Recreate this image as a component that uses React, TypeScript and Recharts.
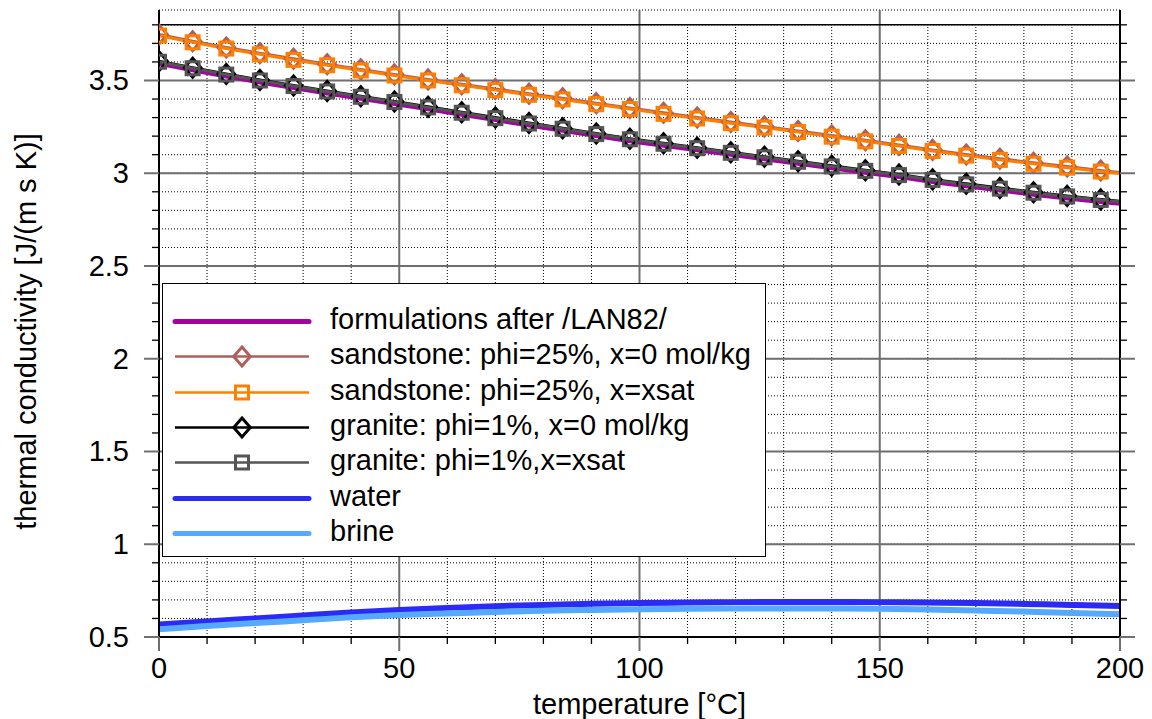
import React from 'react';
import { LineChart, Line, XAxis, YAxis, CartesianGrid, ReferenceLine, Legend } from 'recharts';

const FONT = '"Liberation Sans", Arial, Helvetica, sans-serif';

// temperatures [°C] of the rock curves (markers every 7 °C, curve ends at 200)
const rockT = [0, 7, 14, 21, 28, 35, 42, 49, 56, 63, 70, 77, 84, 91, 98, 105, 112, 119, 126, 133, 140, 147, 154, 161, 168, 175, 182, 189, 196, 200];

const lan82 = [3.593, 3.558, 3.524, 3.492, 3.462, 3.433, 3.404, 3.376, 3.347, 3.318, 3.289, 3.26, 3.232, 3.203, 3.175, 3.151, 3.127, 3.102, 3.078, 3.054, 3.029, 3.005, 2.982, 2.956, 2.932, 2.909, 2.887, 2.867, 2.848, 2.838];
const sandstone0 = [3.748, 3.712, 3.678, 3.647, 3.617, 3.588, 3.56, 3.533, 3.506, 3.48, 3.454, 3.429, 3.404, 3.378, 3.352, 3.326, 3.301, 3.276, 3.252, 3.228, 3.203, 3.178, 3.153, 3.126, 3.101, 3.078, 3.057, 3.036, 3.015, 3.004];
const sandstoneSat = [3.742, 3.706, 3.672, 3.641, 3.611, 3.582, 3.554, 3.527, 3.5, 3.474, 3.448, 3.423, 3.398, 3.372, 3.346, 3.32, 3.295, 3.27, 3.246, 3.222, 3.197, 3.172, 3.147, 3.12, 3.095, 3.072, 3.051, 3.03, 3.009, 2.998];
const granite0 = [3.604, 3.569, 3.535, 3.503, 3.473, 3.444, 3.415, 3.387, 3.358, 3.329, 3.3, 3.271, 3.243, 3.214, 3.186, 3.162, 3.138, 3.113, 3.089, 3.065, 3.04, 3.016, 2.993, 2.967, 2.943, 2.92, 2.898, 2.878, 2.859, 2.849];
const graniteSat = [3.601, 3.566, 3.532, 3.5, 3.47, 3.441, 3.412, 3.384, 3.355, 3.326, 3.297, 3.268, 3.24, 3.211, 3.183, 3.159, 3.135, 3.11, 3.086, 3.062, 3.037, 3.013, 2.99, 2.964, 2.94, 2.917, 2.895, 2.875, 2.856, 2.846];

// fluids
const fluidT = [0, 10, 20, 30, 40, 50, 60, 70, 80, 90, 100, 110, 120, 130, 140, 150, 160, 170, 180, 190, 200];
const water = [0.567, 0.584, 0.6, 0.616, 0.632, 0.646, 0.657, 0.666, 0.673, 0.679, 0.683, 0.686, 0.688, 0.689, 0.689, 0.688, 0.686, 0.683, 0.678, 0.673, 0.667];
const brine = [0.542, 0.559, 0.575, 0.59, 0.606, 0.618, 0.627, 0.635, 0.641, 0.646, 0.65, 0.652, 0.654, 0.654, 0.654, 0.652, 0.648, 0.643, 0.637, 0.63, 0.622];

const xTicks = [0, 10, 20, 30, 40, 50, 60, 70, 80, 90, 100, 110, 120, 130, 140, 150, 160, 170, 180, 190, 200];
const yTicks = [0.5, 0.6, 0.7, 0.8, 0.9, 1, 1.1, 1.2, 1.3, 1.4, 1.5, 1.6, 1.7, 1.8, 1.9, 2, 2.1, 2.2, 2.3, 2.4, 2.5, 2.6, 2.7, 2.8, 2.9, 3, 3.1, 3.2, 3.3, 3.4, 3.5, 3.6, 3.7, 3.8];

const isMajorX = (v: number) => v % 50 === 0;
const isMajorY = (v: number) => Math.abs(v * 2 - Math.round(v * 2)) < 1e-6;

const rows = (ts: number[], ys: number[]) => ts.map((t, i) => ({ t, v: ys[i] }));

type Marker = 'diamond' | 'square' | null;

const SERIES = [
  { name: 'formulations after /LAN82/', color: '#A0069E', width: 5, marker: null as Marker, data: rows(rockT, lan82) },
  { name: 'sandstone: phi=25%, x=0 mol/kg', color: '#B0605A', width: 3, marker: 'diamond' as Marker, data: rows(rockT, sandstone0) },
  { name: 'sandstone: phi=25%, x=xsat', color: '#FF8000', width: 3, marker: 'square' as Marker, data: rows(rockT, sandstoneSat) },
  { name: 'granite: phi=1%, x=0 mol/kg', color: '#000000', width: 3, marker: 'diamond' as Marker, data: rows(rockT, granite0) },
  { name: 'granite: phi=1%,x=xsat', color: '#555555', width: 3, marker: 'square' as Marker, data: rows(rockT, graniteSat) },
  { name: 'water', color: '#2B2BF5', width: 6, marker: null as Marker, data: rows(fluidT, water) },
  { name: 'brine', color: '#55AAFF', width: 6, marker: null as Marker, data: rows(fluidT, brine) },
];

const markerShape = (m: Marker, cx: number, cy: number, color: string, key?: string) => {
  if (m === 'diamond') {
    return (
      <path key={key} d={`M${cx},${cy - 9.5}L${cx + 8.3},${cy}L${cx},${cy + 9.5}L${cx - 8.3},${cy}Z`}
        fill="none" stroke={color} strokeWidth={3} />
    );
  }
  if (m === 'square') {
    return <rect key={key} x={cx - 6.5} y={cy - 6.5} width={13} height={13} fill="none" stroke={color} strokeWidth={3} />;
  }
  return null;
};

const makeDot = (m: Marker, color: string) => (p: any) => {
  const key = `dot-${p.index}`;
  if (!m || p.payload.t % 7 !== 0) return <g key={key} />;
  return markerShape(m, p.cx, p.cy, color, key);
};

const XTick = ({ x, y, payload }: any) => {
  const v = payload.value;
  const major = isMajorX(v);
  return (
    <g>
      <line x1={x} x2={x} y1={y} y2={y + (major ? 14 : 7)} stroke={major ? '#707070' : '#000'} strokeWidth={major ? 2 : 1.3} />
      {major && (
        <text x={x} y={y + 41} textAnchor="middle" fontSize={29} fontFamily={FONT} fill="#000">{v}</text>
      )}
    </g>
  );
};

const YTickLeft = ({ x, y, payload }: any) => {
  const v = payload.value;
  const major = isMajorY(v);
  return (
    <g>
      <line x1={x - (major ? 15 : 7)} x2={x} y1={y} y2={y} stroke={major ? '#707070' : '#000'} strokeWidth={major ? 2 : 1.3} />
      {major && v < 3.75 && (
        <text x={x - 30} y={y + 10} textAnchor="end" fontSize={29} fontFamily={FONT} fill="#000">
          {String(Math.round(v * 10) / 10)}
        </text>
      )}
    </g>
  );
};

const YTickRight = ({ x, y, payload }: any) => {
  const major = isMajorY(payload.value);
  return (
    <line x1={x} x2={x + (major ? 15 : 7)} y1={y} y2={y} stroke={major ? '#707070' : '#000'} strokeWidth={major ? 2 : 1.3} />
  );
};

const YLabel = ({ viewBox }: any) => {
  const cx = viewBox.x + 36;
  const cy = viewBox.y + viewBox.height / 2 + 8;
  return (
    <text x={cx} y={cy} transform={`rotate(-90, ${cx}, ${cy})`} textAnchor="middle" fontSize={29} fontFamily={FONT} fill="#000">
      thermal conductivity [J/(m s K)]
    </text>
  );
};

const LegendBox = () => (
  <div
    style={{
      boxSizing: 'border-box',
      width: 604,
      height: 274,
      border: '1.5px solid #000',
      background: '#fff',
      paddingTop: 20,
      fontFamily: FONT,
      fontSize: 29,
      color: '#000',
    }}
  >
    {SERIES.map((s) => (
      <div key={s.name} style={{ display: 'flex', alignItems: 'center', height: 35.3 }}>
        <svg width={160} height={35} style={{ flex: 'none' }}>
          <line x1={12} x2={146} y1={17.5} y2={17.5} stroke={s.color} strokeWidth={s.marker ? 2.5 : 5}
            strokeLinecap={s.marker ? 'butt' : 'round'} />
          {markerShape(s.marker, 79, 17.5, s.color)}
        </svg>
        <span style={{ marginLeft: 7, lineHeight: 1, whiteSpace: 'nowrap', position: 'relative', top: -2 }}>{s.name}</span>
      </div>
    ))}
  </div>
);

export default function App() {
  return (
    <div style={{ position: 'absolute', left: 0, top: 0, background: '#fff' }}>
      <LineChart width={1152} height={719} margin={{ top: 10, right: 0, bottom: 0, left: 0 }}>
        <CartesianGrid horizontal vertical={false} stroke="#000" strokeDasharray="1 2" strokeWidth={1} />
        <XAxis
          dataKey="t"
          type="number"
          domain={[0, 200]}
          allowDataOverflow
          ticks={xTicks}
          interval={0}
          height={82}
          tickSize={0}
          tickMargin={0}
          tickLine={false}
          tick={<XTick />}
          axisLine={{ stroke: '#000', strokeWidth: 2 }}
          label={{ value: 'temperature [°C]', position: 'insideBottom', offset: 5, fontSize: 29, fontFamily: FONT, fill: '#000' }}
        />
        <YAxis
          type="number"
          domain={[0.5, 3.88]}
          allowDataOverflow
          ticks={yTicks}
          interval={0}
          width={159}
          tickSize={0}
          tickMargin={0}
          tickLine={false}
          tick={<YTickLeft />}
          axisLine={{ stroke: '#000', strokeWidth: 2 }}
          label={<YLabel />}
        />
        <YAxis
          yAxisId="r"
          orientation="right"
          type="number"
          domain={[0.5, 3.88]}
          allowDataOverflow
          ticks={yTicks}
          interval={0}
          width={32}
          tickSize={0}
          tickMargin={0}
          tickLine={false}
          tick={<YTickRight />}
          axisLine={{ stroke: '#000', strokeWidth: 2 }}
        />
        {xTicks.filter((v) => !isMajorX(v)).map((v) => (
          <ReferenceLine key={`xm-${v}`} segment={[{ x: v, y: 0.5 }, { x: v, y: 3.8 }]} stroke="#000" strokeDasharray="1 2" strokeWidth={1} />
        ))}
        {xTicks.filter((v) => isMajorX(v) && v > 0 && v < 200).map((v) => (
          <ReferenceLine key={`xM-${v}`} x={v} stroke="#6e6e6e" strokeWidth={2} />
        ))}
        {yTicks.filter((v) => isMajorY(v) && v > 0.5).map((v) => (
          <ReferenceLine key={`yM-${v}`} y={v} stroke="#6e6e6e" strokeWidth={2} />
        ))}
        <ReferenceLine y={3.8} stroke="#000" strokeWidth={1.5} />
        {SERIES.map((s) => (
          <Line
            key={s.name}
            data={s.data}
            dataKey="v"
            name={s.name}
            type={s.marker || s.name === 'formulations after /LAN82/' ? 'linear' : 'monotone'}
            stroke={s.color}
            strokeWidth={s.width}
            dot={makeDot(s.marker, s.color)}
            activeDot={false}
            isAnimationActive={false}
          />
        ))}
        <Legend
          layout="vertical"
          align="center"
          verticalAlign="middle"
          content={<LegendBox />}
          wrapperStyle={{ left: 162, top: 283, width: 604, height: 274 }}
        />
      </LineChart>
    </div>
  );
}
